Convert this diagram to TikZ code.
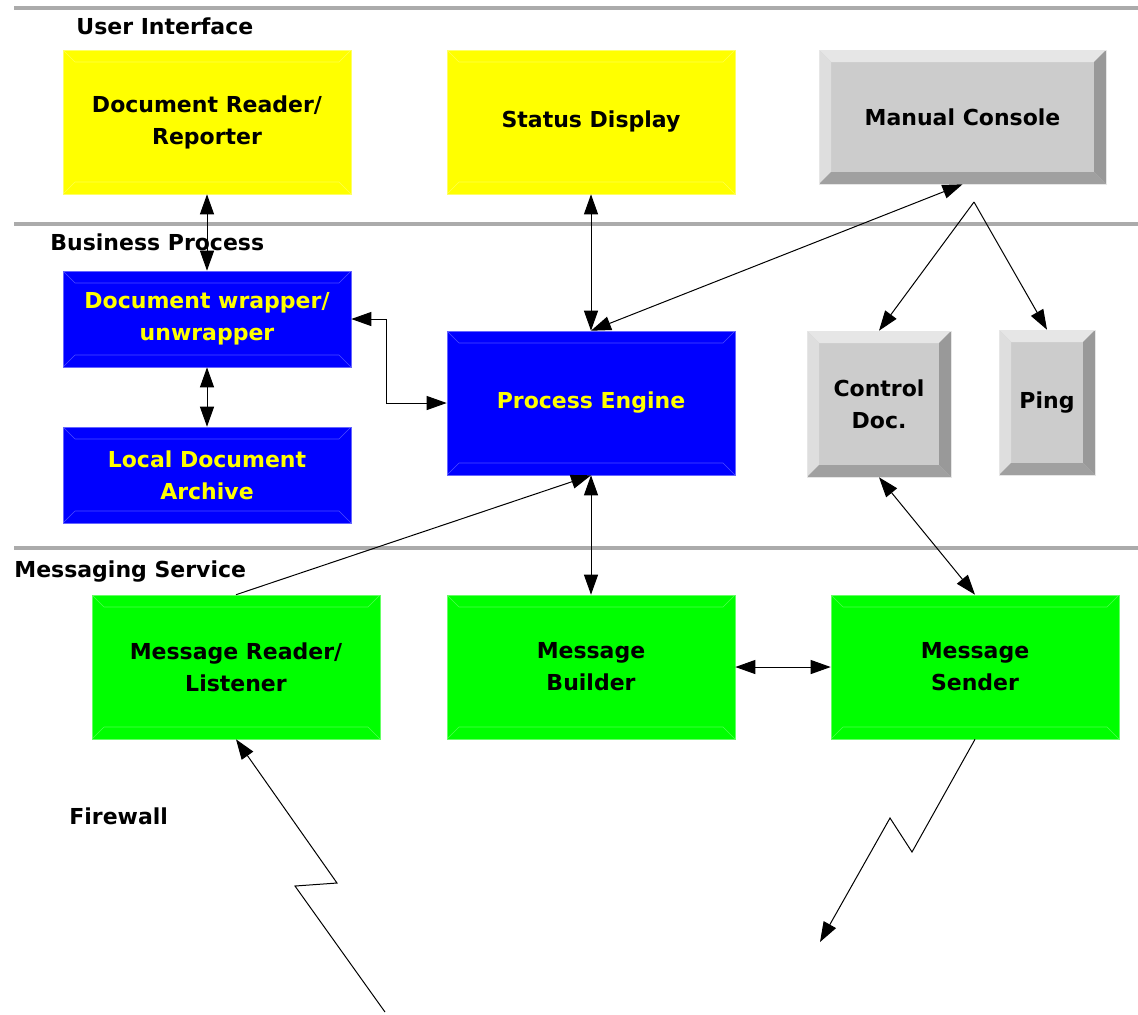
\documentclass[tikz,border=0pt]{standalone}
\usepackage{fontspec}
\setmainfont{DejaVu Sans}
\usetikzlibrary{arrows.meta}

\definecolor{uiyellow}{HTML}{FFFF00}
\definecolor{bpblue}{HTML}{0000FF}
\definecolor{msgreen}{HTML}{00FF00}
\definecolor{facegrey}{HTML}{CCCCCC}
\definecolor{bevtop}{HTML}{E6E6E6}
\definecolor{bevleft}{HTML}{DEDEDE}
\definecolor{bevright}{HTML}{999999}
\definecolor{bevbottom}{HTML}{A0A0A0}
\newcommand\ppb{path picture bounding box}

\begin{document}
\begin{tikzpicture}[x=0.5pt,y=-0.5pt,
   every node/.style={font=\bfseries\fontsize{11}{16}\selectfont},
   layer/.style={anchor=west,inner sep=0pt},
   sepline/.style={line width=2pt,draw=black!33},
   box/.style={rectangle,inner sep=0pt,align=center,fill=#1,
      draw=#1!60!white,line width=0.3pt,
      path picture={\draw[#1!70!white,line width=0.3pt]
         ([shift={(6pt,-6pt)}]\ppb.north west) -- ([shift={(-6pt,-6pt)}]\ppb.north east)
         ([shift={(6pt,6pt)}]\ppb.south west) -- ([shift={(-6pt,6pt)}]\ppb.south east)
         (\ppb.north west) -- ++(6pt,-6pt) (\ppb.north east) -- ++(-6pt,-6pt)
         (\ppb.south west) -- ++(6pt,6pt) (\ppb.south east) -- ++(-6pt,6pt);}},
   key/.style={rectangle,inner sep=0pt,align=center,fill=facegrey,draw=bevtop,line width=0.3pt,
      path picture={
         \fill[bevtop] (\ppb.north west) -- (\ppb.north east) -- ([shift={(-6pt,-6pt)}]\ppb.north east) -- ([shift={(6pt,-6pt)}]\ppb.north west) -- cycle;
         \fill[bevleft] (\ppb.north west) -- ([shift={(6pt,-6pt)}]\ppb.north west) -- ([shift={(6pt,6pt)}]\ppb.south west) -- (\ppb.south west) -- cycle;
         \fill[bevright] (\ppb.north east) -- (\ppb.south east) -- ([shift={(-6pt,6pt)}]\ppb.south east) -- ([shift={(-6pt,-6pt)}]\ppb.north east) -- cycle;
         \fill[bevbottom] (\ppb.south west) -- (\ppb.south east) -- ([shift={(-6pt,6pt)}]\ppb.south east) -- ([shift={(6pt,6pt)}]\ppb.south west) -- cycle;}},
   wide/.style={minimum width=144pt,minimum height=72pt},
   tip/.style={line width=0.5pt,-{Triangle[length=10pt,width=7pt]}},
   both/.style={line width=0.5pt,{Triangle[length=10pt,width=7pt]}-{Triangle[length=10pt,width=7pt]}}]

\useasboundingbox (0,0) rectangle (1138,1014);

\draw[sepline] (14,8) -- (1138,8);
\draw[sepline] (14,224) -- (1138,224);
\draw[sepline] (14,548) -- (1138,548);

\node[layer] (ui) at (76,26) {User Interface};
\node[layer] (bp) at (50,242) {Business Process};
\node[layer] (ms) at (14,571) {Messaging Service};
\node[layer] (fw) at (69,816) {Firewall};

\node[box=uiyellow,wide] (docrd) at (207,122) {Document Reader/\\Reporter};
\node[box=uiyellow,wide] (status) at (591,122) {Status Display};
\node[key,minimum width=143.5pt,minimum height=67pt] (console) at (962.5,117) {Manual Console};

\node[box=bpblue,minimum width=144pt,minimum height=48pt,text=uiyellow] (wrap) at (207,319) {Document wrapper/\\unwrapper};
\node[box=bpblue,minimum width=144pt,minimum height=48pt,text=uiyellow] (archive) at (207,475) {Local Document\\Archive};
\node[box=bpblue,wide,text=uiyellow] (engine) at (591,403) {Process Engine};
\node[key,minimum width=72pt,minimum height=73pt] (ctrl) at (879,404) {Control\\Doc.};
\node[key,minimum width=48pt,minimum height=72.5pt] (ping) at (1047,402.5) {Ping};

\node[box=msgreen,wide] (reader) at (236,667) {Message Reader/\\Listener};
\node[box=msgreen,wide] (builder) at (591,667) {Message\\Builder};
\node[box=msgreen,wide] (sender) at (975,667) {Message\\Sender};

\coordinate (fork) at (974,202);
\coordinate (inbolt) at (385,1012);
\coordinate (outbolt) at (820,942);

\draw[both] (docrd) -- (wrap);
\draw[both] (wrap) -- (archive);
\draw[both] (status) -- (engine);
\draw[both] (console.south) -- (engine.north);
\draw[tip] (fork) -- (ctrl.north);
\draw[tip] (fork) -- (ping.north);
\draw[both] (wrap.east) -- ++(35,0) |- (engine.west);
\draw[tip] (reader.north) -- (engine.south);
\draw[both] (engine) -- (builder);
\draw[both] (ctrl.south) -- (sender.north);
\draw[both] (builder) -- (sender);
\draw[tip] (inbolt) -- (295,886) -- (337,883) -- (reader.south);
\draw[tip] (sender.south) -- (912,852) -- (890,818) -- (outbolt);

\end{tikzpicture}
\end{document}
